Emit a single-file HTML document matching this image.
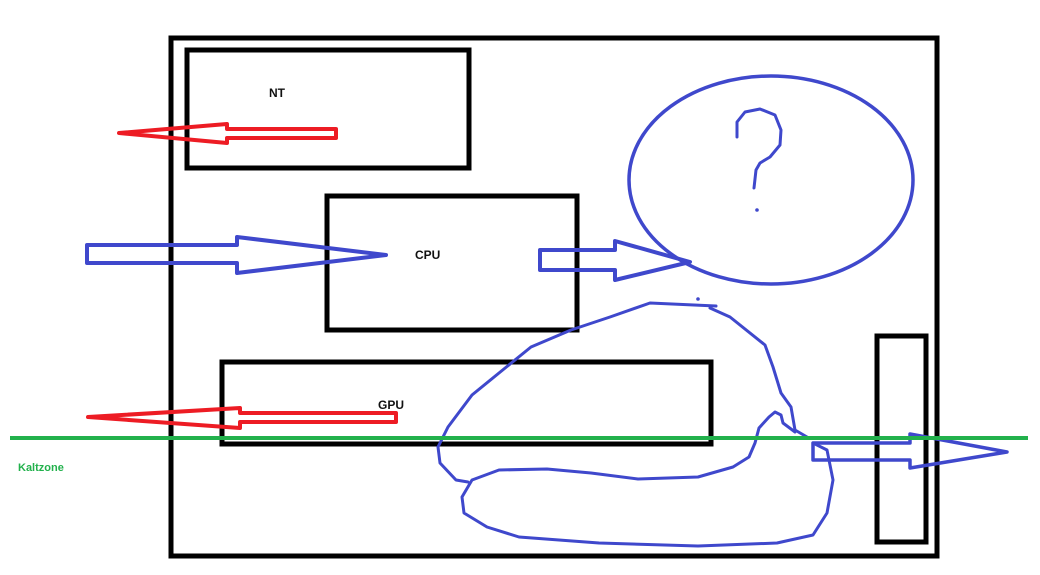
<!DOCTYPE html>
<html><head><style>body{margin:0;background:#fff}svg{display:block}</style></head><body>
<svg width="1040" height="575" xmlns="http://www.w3.org/2000/svg">
<rect width="1040" height="575" fill="#fff"/>
<g fill="none" stroke="#000" stroke-width="5">
<rect x="171" y="38" width="766" height="518"/>
<rect x="187" y="50" width="282" height="118"/>
<rect x="327" y="196" width="250" height="134"/>
<rect x="222" y="362" width="489" height="82"/>
<rect x="877" y="336" width="49" height="206"/>
</g>
<g font-family="Liberation Sans, sans-serif" font-weight="bold" font-size="12" fill="#111">
<text x="269" y="97">NT</text>
<text x="415" y="259">CPU</text>
<text x="378" y="409">GPU</text>
</g>
<text x="18" y="471" font-family="Liberation Sans, sans-serif" font-weight="bold" font-size="11" fill="#22b14c">Kaltzone</text>
<g fill="none" stroke="#ed1c24" stroke-width="4" stroke-linejoin="round">
<polygon points="119,133 227,124 227,129 336,129 336,138 227,138 227,143"/>
<polygon points="88,417 240,408 240,413 396,413 396,422 240,422 240,428"/>
</g>
<g fill="none" stroke="#3f48cc" stroke-width="4" stroke-linejoin="round" stroke-linecap="round">
<polygon points="87,245 237,245 237,237 386,255 237,273 237,263 87,263"/>
<polygon points="540,250 615,250 615,241 690,262 615,280 615,270 540,270"/>
<ellipse cx="771" cy="180" rx="142" ry="104" stroke-width="3.5"/>
<path d="M737,137 L737,122 L745,112 L760,109 L775,115 L781,130 L780,145 L770,157 L760,163 L756,170 L754,188" stroke-width="3"/>
<path d="M468,482 L456,480 L440,463 L438,447 L448,427 L472,395 L499,373 L531,347 L571,330 L610,317 L650,303 L716,306" stroke-width="3"/>
<path d="M710,308 L730,317 L765,345 L773,367 L781,393 L791,407 L795,430 L807,437" stroke-width="3"/>
<path d="M795,432 L783,423 L781,415 L775,412 L769,417 L759,428 L755,443 L749,457 L733,467 L698,477 L638,479 L591,473 L547,469 L499,470 L472,480 L462,497 L464,513 L487,527 L519,537 L599,543 L698,546 L777,543 L813,535 L827,513 L833,480 L827,450 L813,443" stroke-width="3"/>
<polygon points="813,443 910,443 910,434 1007,452 910,468 910,460 813,460" stroke-width="3.5"/>
</g>
<circle cx="757" cy="210" r="1.8" fill="#3f48cc"/>
<circle cx="698" cy="299" r="1.8" fill="#3f48cc"/>
<line x1="10" y1="438" x2="1028" y2="438" stroke="#22b14c" stroke-width="4"/>
</svg>
</body></html>
